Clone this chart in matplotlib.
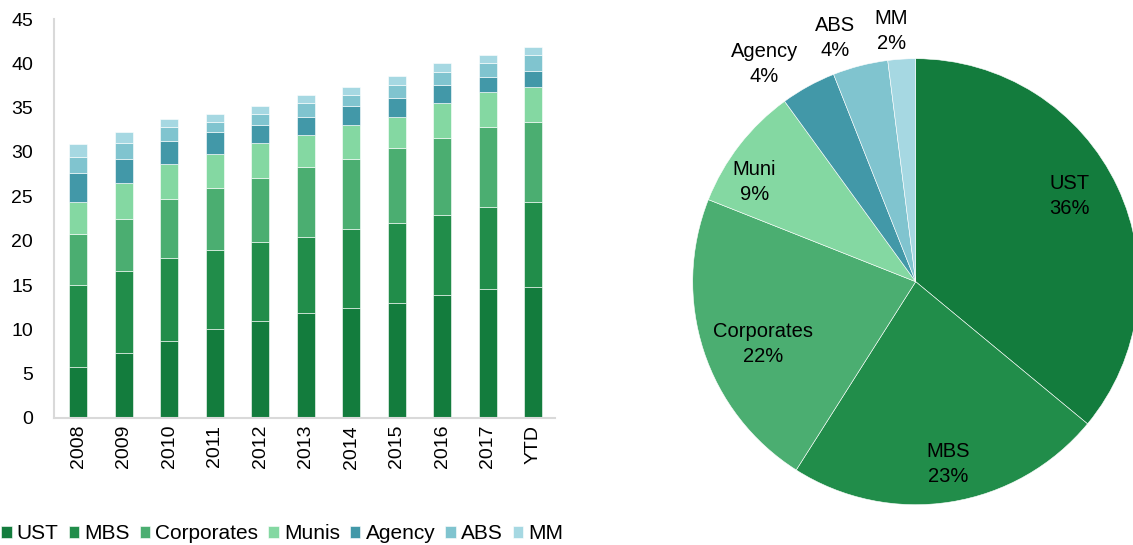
import numpy as np
import matplotlib
matplotlib.use("Agg")
import matplotlib.pyplot as plt

plt.rcParams['font.family'] = ['Liberation Sans', 'DejaVu Sans']

years = ['2008', '2009', '2010', '2011', '2012', '2013', '2014', '2015', '2016', '2017', 'YTD']
series_names = ['UST', 'MBS', 'Corporates', 'Munis', 'Agency', 'ABS', 'MM']
colors = ['#137c3d', '#218d4a', '#4bae71', '#84d8a2', '#4298a8', '#80c4cf', '#a6d8e2']

ust = [5.8, 7.3, 8.7, 10.0, 10.9, 11.8, 12.4, 13.0, 13.9, 14.5, 14.8]
mbs = [9.2, 9.3, 9.4, 9.0, 9.0, 8.6, 8.9, 9.0, 9.0, 9.3, 9.6]
corporates = [5.7, 5.9, 6.6, 6.9, 7.2, 7.9, 7.9, 8.4, 8.7, 9.0, 9.0]
munis = [3.7, 4.0, 3.9, 3.9, 3.9, 3.6, 3.9, 3.6, 3.9, 4.0, 3.9]
agency = [3.2, 2.7, 2.6, 2.4, 2.1, 2.1, 2.1, 2.1, 2.1, 1.7, 1.8]
abs_ = [1.8, 1.8, 1.6, 1.2, 1.2, 1.5, 1.2, 1.5, 1.4, 1.5, 1.8]
mm = [1.5, 1.2, 0.9, 0.9, 0.9, 0.9, 0.9, 1.0, 1.0, 0.9, 0.9]

pie_labels = ['UST', 'MBS', 'Corporates', 'Muni', 'Agency', 'ABS', 'MM']
pie_values = [36, 23, 22, 9, 4, 4, 2]
# label distance (in radii) and angle nudge (deg) for each slice label
label_dist = [0.79, 0.83, 0.74, 0.85, 1.19, 1.15, 1.13]
label_nudge = [4, 1, 4, 6, 6, 4, 2]

W, H = 1133, 545
fig = plt.figure(figsize=(W / 100, H / 100), dpi=100)

# stacked bars
ax = fig.add_axes([54 / W, 1 - 418 / H, (555 - 54) / W, (418 - 19) / H])
x = np.arange(len(years))
bottom = np.zeros(len(years))
for name, vals, c in zip(series_names, [ust, mbs, corporates, munis, agency, abs_, mm], colors):
    ax.bar(x, vals, 0.4, bottom=bottom, color=c, edgecolor='#ffffff', linewidth=0.4, label=name)
    bottom += np.array(vals)

ax.set_ylim(0, 45)
ax.set_yticks(np.arange(0, 46, 5))
ax.set_xlim(-0.53, 10.48)
ax.set_xticks(x)
ax.set_xticklabels(years, rotation=90)
for s in ['top', 'right']:
    ax.spines[s].set_visible(False)
for s in ['left', 'bottom']:
    ax.spines[s].set_color('#d9d9d9')
    ax.spines[s].set_linewidth(1.5)
ax.tick_params(axis='y', length=0, pad=15, labelsize=14)
ax.tick_params(axis='x', length=0, pad=5, labelsize=14)

fig.legend(loc='lower left', bbox_to_anchor=(-0.01, -0.02), ncol=7, frameon=False,
           fontsize=15, handlelength=0.5, handleheight=0.5, handletextpad=0.25,
           columnspacing=0.48, borderaxespad=0.2)

# pie
cx, cy, r = 915.7, 281.7, 223
ax2 = fig.add_axes([(cx - r) / W, (H - cy - r) / H, 2 * r / W, 2 * r / H])
wedges, _ = ax2.pie(pie_values, colors=colors, startangle=90, counterclock=False,
                    radius=1, wedgeprops=dict(edgecolor='#ffffff', linewidth=0.4))
ax2.set_xlim(-1, 1)
ax2.set_ylim(-1, 1)
for w, lab, val, d, nd in zip(wedges, pie_labels, pie_values, label_dist, label_nudge):
    mid = np.deg2rad((w.theta1 + w.theta2) / 2 + nd)
    ax2.text(d * np.cos(mid), d * np.sin(mid), f'{lab}\n{val}%', ha='center', va='center',
             fontsize=14.5, linespacing=1.4, clip_on=False)

fig.savefig('out.png', dpi=100)
